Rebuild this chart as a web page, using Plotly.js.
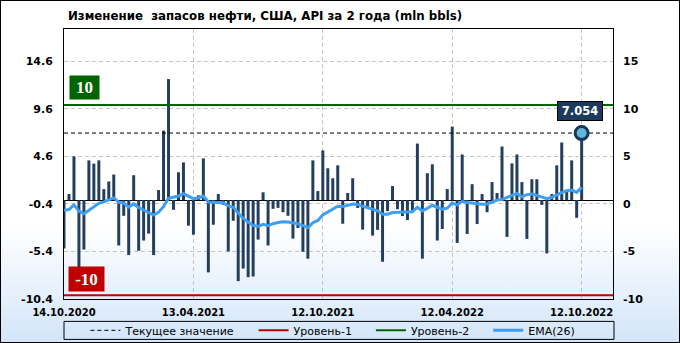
<!DOCTYPE html>
<html><head><meta charset="utf-8">
<script src="https://cdn.plot.ly/plotly-3.0.1.min.js"></script>
<style>
html,body{margin:0;padding:0;background:#fff;}
#wrap{position:relative;width:680px;height:343px;background:linear-gradient(to bottom,#ffffff 0%,#ffffff 66%,#d2e5f9 100%);}
#chart{width:680px;height:343px;}
#frame{position:absolute;left:0;top:0;width:680px;height:343px;box-sizing:border-box;border:1px solid #000;pointer-events:none;}
</style></head><body>
<div id="wrap"><div id="chart"></div><div id="frame"></div></div>
<script>
// x tick labels (weekly bars, index positions)
const tickLabels = ['14.10.2020','13.04.2021','12.10.2021','12.04.2022','12.10.2022'];
const tickIndex = [0, 26, 52, 78, 104];
const leftTicks = [-10.4, -5.4, -0.4, 4.6, 9.6, 14.6];
const rightTicks = [-10, -5, 0, 5, 10, 15];

// weekly change of US crude stocks, API (mln bbls)
const values = [
 -5.1, 0.64, 4.6, -7.17, -5.2, 4.18, 3.84, 4.18, 1.16, 1.96,
 2.69, -4.77, -1.65, -5.78, 2.62, -5.33, -4.25, -3.52, -5.78, 1.06,
 7.31, 12.73, -1.02, 2.93, 3.97, -2.69, -3.63, 0.5, 4.39, -7.6,
 -2.59, 0.64, -0.5, -5.4, -2.17, -8.52, -7.2, -8.1, -8.03, -4.15,
 0.82, -4.77, -0.92, -0.82, -1.27, -1.65, -4.05, -2.93, -5.43, -6.16,
 4.18, 0.95, 5.23, 3.35, 2.3, 3.66, -2.48, 0.75, 2.3, -0.82,
 -3.1, -0.7, -3.73, -3.13, -6.48, -1.16, 1.48, -0.95, -1.68, -2.1,
 -1.1, 5.95, -6.16, 2.83, 3.77, -4.25, -3.04, 1.16, 7.73, -4.5,
 4.8, -3.56, 1.68, -2.52, 0.64, -1.27, 1.9, 0.75, 5.64, -3.87,
 3.87, 4.8, 1.9, -4.08, 2.2, 2.2, -0.5, -5.6, 0.64, 3.66,
 6.06, 1.06, 4.18, -1.86, 7.054
];
// EMA(26)
const ema = [
 -1.06, -0.99, -0.5, -1.16, -1.44, -1.09, -0.75, -0.33, -0.19, 0.02,
 0.23, -0.23, -0.33, -0.75, -0.4, -0.78, -1.02, -1.27, -1.58, -1.27,
 -0.68, 0.2, 0.3, 0.43, 0.68, 0.43, 0.16, 0.23, 0.43, -0.19,
 -0.26, -0.26, -0.3, -0.61, -0.75, -1.37, -1.93, -2.31, -2.66, -2.76,
 -2.55, -2.69, -2.48, -2.36, -2.27, -2.31, -2.38, -2.48, -2.69, -2.9,
 -2.38, -2.14, -1.55, -1.23, -0.95, -0.64, -0.68, -0.54, -0.4, -0.47,
 -0.64, -0.78, -0.95, -1.13, -1.48, -1.48, -1.3, -1.27, -1.27, -1.27,
 -1.23, -0.75, -1.13, -0.85, -0.54, -0.75, -0.95, -0.85, -0.3, -0.5,
 -0.12, -0.26, -0.33, -0.37, -0.43, -0.4, -0.2, 0.0, 0.05, 0.3,
 0.5, 0.71, 0.36, 0.57, 0.64, 0.5, 0.3, 0.16, 0.3, 0.57,
 0.78, 0.99, 1.06, 0.82, 1.34
];
const level1 = -10;   // Уровень-1
const level2 = 10;    // Уровень-2
const xRange = [0, 110.3];
const yRange = [-10.4, 18.0];

const lastIdx = values.length - 1;
const lastVal = values[lastIdx];
const idx = values.map((v, i) => i);
const gap = '\u00a0\u00a0\u00a0\u00a0';

const traces = [
 {type:'bar', x: idx, y: values, width: 0.6, marker:{color:'#243e5e'},
  showlegend:false, hoverinfo:'x+y'},
 {type:'scatter', mode:'lines', name:'Текущее значение'+gap, x: xRange, y:[lastVal,lastVal],
  line:{color:'#000', width:1, dash:'4px,3px'}, legendrank:1, hoverinfo:'skip'},
 {type:'scatter', mode:'lines', name:'Уровень-1'+gap, x: xRange, y:[level1,level1],
  line:{color:'#c00000', width:2}, legendrank:2, hoverinfo:'skip'},
 {type:'scatter', mode:'lines', name:'Уровень-2'+gap, x: xRange, y:[level2,level2],
  line:{color:'#006400', width:2}, legendrank:3, hoverinfo:'skip'},
 {type:'scatter', mode:'lines', name:'EMA(26)', x: idx, y: ema,
  line:{color:'#3d9ef2', width:3}, legendrank:4},
 {type:'scatter', mode:'markers', x:[lastIdx], y:[lastVal], showlegend:false,
  marker:{size:13, color:'#62b6d9', line:{color:'#17365a', width:3}}},
 {type:'scatter', mode:'markers', x:[lastIdx], y:[null], yaxis:'y2', showlegend:false, hoverinfo:'skip'}
];

const bold = {family:'DejaVu Sans', size:11, color:'#000', weight:700};

const layout = {
 width:680, height:343,
 margin:{l:64, r:67, t:28.5, b:44.4, pad:0, autoexpand:false},
 paper_bgcolor:'rgba(0,0,0,0)', plot_bgcolor:'rgba(0,0,0,0)',
 title:{text:'<b>Изменение\u00a0 запасов нефти, США, API за 2 года (mln bbls)</b>',
  x:68/680, xanchor:'left', y:1-16/343, yanchor:'middle',
  font:{family:'DejaVu Sans', size:11.8, color:'#000'}},
 showlegend:true,
 legend:{orientation:'h', x:0.039, xanchor:'left', y:-0.116, yanchor:'middle',
  font:{family:'DejaVu Sans', size:11, color:'#000'}, bgcolor:'rgba(0,0,0,0)',
  borderwidth:0, itemwidth:30, traceorder:'normal'},
 xaxis:{range:xRange, tickmode:'array', tickvals:tickIndex, ticktext:tickLabels,
  showgrid:true, gridcolor:'#c4c4c4', griddash:'4px,3px', gridwidth:1,
  zeroline:false, showline:true, linecolor:'#000', linewidth:1, mirror:true,
  ticks:'', tickfont:{family:'DejaVu Sans', size:10, color:'#000', weight:700},
  ticklabelstandoff:4, fixedrange:true},
 yaxis:{range:yRange, tickmode:'array', tickvals:leftTicks, ticktext:leftTicks.map(String),
  showgrid:true, gridcolor:'#c4c4c4', griddash:'4px,3px', gridwidth:1,
  zeroline:true, zerolinecolor:'#000', zerolinewidth:1,
  showline:true, linecolor:'#000', linewidth:1, mirror:true,
  ticks:'', tickfont:bold, ticklabelstandoff:8, fixedrange:true},
 yaxis2:{overlaying:'y', side:'right', range:[yRange[0]+0.4, yRange[1]+0.4],
  tickmode:'array', tickvals:rightTicks, ticktext:rightTicks.map(String),
  showgrid:false, zeroline:false, showline:false, ticks:'', tickfont:bold,
  ticklabelstandoff:9, fixedrange:true},
 shapes:[{type:'rect', xref:'paper', yref:'paper', x0:0, x1:1.0018, y0:-0.0829, y1:-0.1496,
  line:{color:'#000', width:1}, fillcolor:'rgba(0,0,0,0)', layer:'above'}],
 annotations:[
  {xref:'paper', yref:'y', x:5/549, y:level2, xanchor:'left', yanchor:'bottom', yshift:5,
   text:'<b>'+level2+'</b>', showarrow:false, bgcolor:'#006400', width:29, height:23,
   borderpad:0, font:{family:'Liberation Serif', size:17, color:'#fff'}},
  {xref:'paper', yref:'y', x:4/549, y:level1, xanchor:'left', yanchor:'bottom', yshift:3,
   text:'<b>'+level1+'</b>', showarrow:false, bgcolor:'#c00000', width:35, height:24,
   borderpad:0, font:{family:'Liberation Serif', size:17, color:'#fff'}},
  {xref:'x', yref:'y', x:lastIdx, y:lastVal, xanchor:'center', yanchor:'bottom', yshift:12, xshift:-2,
   text:'<b>'+lastVal.toFixed(3)+'</b>', showarrow:false, bgcolor:'#1c3a5e', bordercolor:'#000',
   borderwidth:1, borderpad:0, width:44, height:18,
   font:{family:'DejaVu Sans', size:11.5, color:'#fff'}}
 ]
};

Plotly.newPlot('chart', traces, layout, {displayModeBar:false, staticPlot:true});
</script>
</body></html>
